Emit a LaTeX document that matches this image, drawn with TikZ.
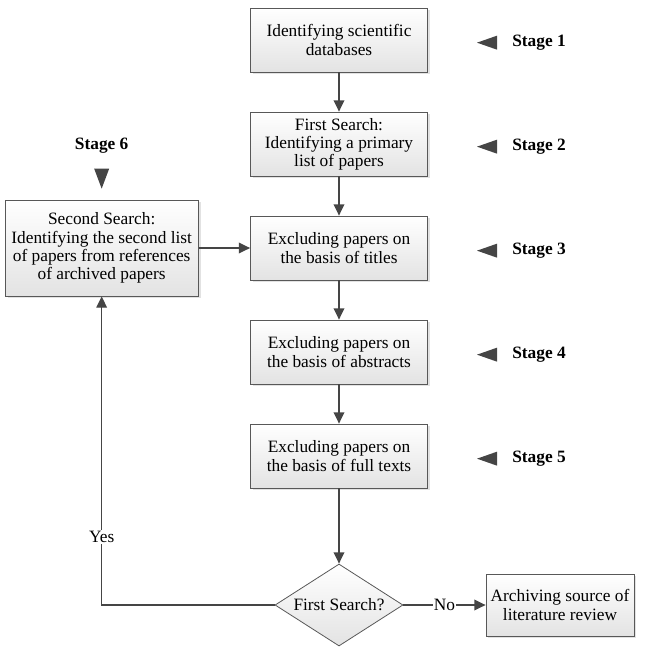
\documentclass[tikz,border=0pt]{standalone}
\usepackage{fontspec}
\setmainfont{Liberation Serif}
\usepackage{xcolor}
\usetikzlibrary{arrows.meta, positioning, shapes.geometric, shadows}
\definecolor{edgegray}{HTML}{454545}

\begin{document}
\begin{tikzpicture}
    [>={Triangle[length=8.5pt,width=8pt]}, x=0.75pt, y=-0.75pt,
    line/.style={draw=edgegray, line width=1.1pt},
    border/.style={draw=edgegray!90, line width=0.6pt},
    every node/.style={font=\fontsize{13}{13.6}\selectfont}]
    % Define styles for blocks, decision and stage labels
    \tikzstyle{block} = [rectangle, align=center, minimum height=48pt, minimum width=132.75pt, inner sep=2pt, top color=white, bottom color=gray!22, drop shadow={shadow xshift=1.8pt, shadow yshift=-1.8pt, fill=gray!45}, border]
    \tikzstyle{decision} = [diamond, aspect=1.6, inner sep=0pt, minimum width=96pt, minimum height=61.5pt, top color=white, bottom color=gray!22, border]
    \tikzstyle{stagelabel} = [font=\fontsize{13}{13.6}\selectfont\bfseries]

    \useasboundingbox (0,0) rectangle (650,654);

    % Nodes placement
    \node [block] (databases) at (339,40) {Identifying scientific\\databases};
    \node [block, below of=databases, node distance=78pt] (firstsearch) {First Search:\\Identifying a primary\\list of papers};
    \node [block, below of=firstsearch, node distance=78pt] (titles) {Excluding papers on\\the basis of titles};
    \node [block, below of=titles, node distance=78pt] (abstracts) {Excluding papers on\\the basis of abstracts};
    \node [block, below of=abstracts, node distance=78pt] (fulltexts) {Excluding papers on\\the basis of full texts};
    \node [decision, below of=fulltexts, node distance=111.75pt] (check) {First Search?};
    \node [block, right of=check, node distance=165.75pt, minimum width=111pt, minimum height=46.5pt] (archive) {Archiving source of\\literature review};
    \node [block, left of=titles, node distance=178pt, minimum width=144.75pt, minimum height=72pt] (secondsearch) {Second Search:\\Identifying the second list\\of papers from references\\of archived papers};

    % Stage labels with their markers
    \foreach \blk/\num in {databases/1, firstsearch/2, titles/3, abstracts/4, fulltexts/5} {
        \node [stagelabel, right of=\blk, node distance=150pt, yshift=-2pt] (stage\num) {Stage \num};
        \coordinate [left of=stage\num, node distance=39pt] (mark\num);
        \fill[edgegray] (mark\num) ++(-10,0) -- ++(20,-7) -- ++(0,14) -- cycle;
    }
    \node [stagelabel, above of=secondsearch, node distance=77pt] (stage6) {Stage 6};
    \coordinate [above of=secondsearch, node distance=52pt] (mark6);
    \fill[edgegray] (mark6) ++(0,10) -- ++(-7.5,-20) -- ++(15,0) -- cycle;

    % Draw edges
    \draw[line,->] (databases) -- (firstsearch);
    \draw[line,->] (firstsearch) -- (titles);
    \draw[line,->] (titles) -- (abstracts);
    \draw[line,->] (abstracts) -- (fulltexts);
    \draw[line,->] (fulltexts) -- (check);
    \draw[line,->] (secondsearch) -- (titles);

    % Decision branches
    \draw[line,->] (check.west) -| node[pos=0.61, fill=white, inner sep=1pt] {Yes} (secondsearch.south);
    \draw[line,->] (check.east) -- node[midway, fill=white, inner sep=1pt] {No} (archive.west);
\end{tikzpicture}
\end{document}
